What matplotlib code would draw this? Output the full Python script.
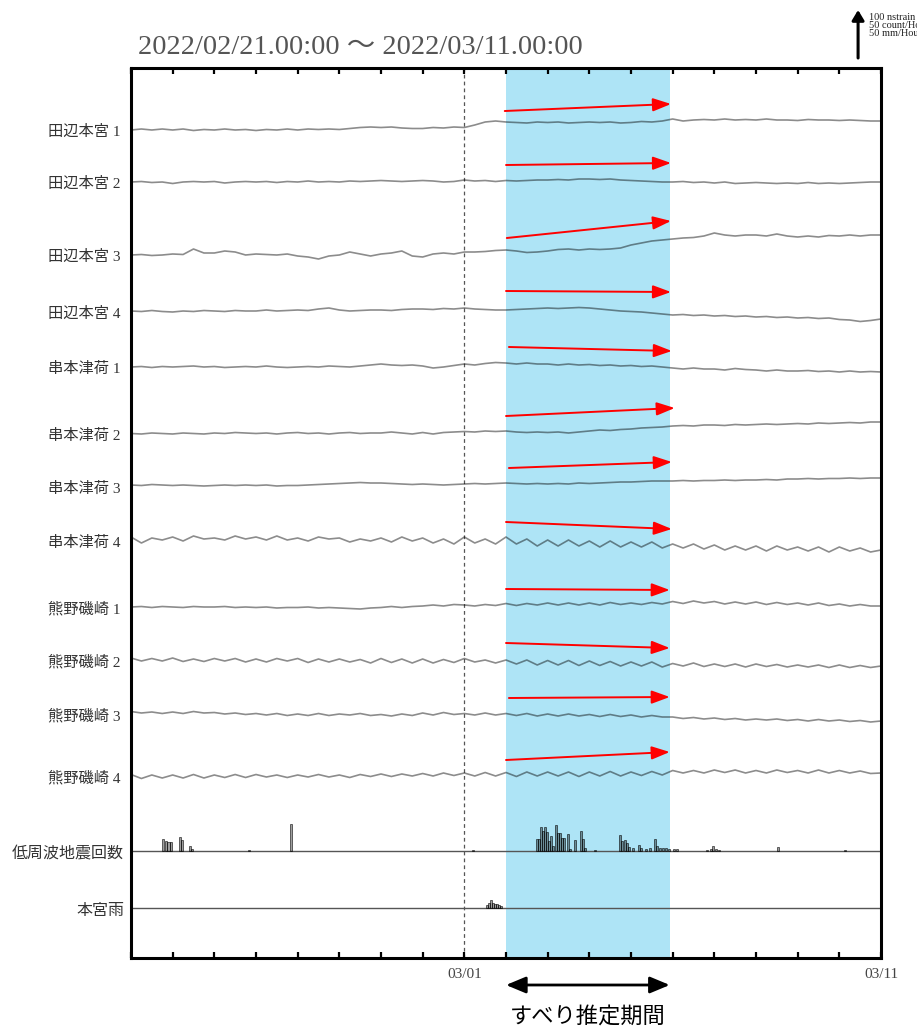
import numpy as np
import matplotlib
matplotlib.use("Agg")
import matplotlib.pyplot as plt
from matplotlib.transforms import blended_transform_factory

plt.rcParams['font.family'] = ['Liberation Serif', 'Noto Sans CJK JP', 'DejaVu Sans']

# ---------------- data ----------------
title = "2022/02/21.00:00 ～ 2022/03/11.00:00"
days = np.arange(0, 18.0001, 0.25)          # days since 2022/02/21 00:00
tick_days = list(range(0, 19))
tick_labels = {8: "03/01", 18: "03/11"}
dash_day = 8
slip_start, slip_end = 9.0, 12.93
slip_label = "すべり推定期間"

station_names = ["田辺本宮 1", "田辺本宮 2", "田辺本宮 3", "田辺本宮 4",
                 "串本津荷 1", "串本津荷 2", "串本津荷 3", "串本津荷 4",
                 "熊野磯崎 1", "熊野磯崎 2", "熊野磯崎 3", "熊野磯崎 4"]

# strain traces (plot units, 48 units = 100 nstrain, positive = up), every 6 h
tanabe1 = [0, 1, 0, 1, 0, 1, -0.5, 0.5, 0, 1, 0, 0.5, -0.5, 0.5, 0, 1, 0, 1, 0.5, 1,
           0.5, 1.5, 2.5, 3, 2.5, 3, 2, 1.5, 1.5, 2.5, 2, 3, 2.5, 5, 8, 9, 8, 7.5, 7, 8,
           7.5, 8, 7, 7.5, 8, 7.5, 8, 7, 7.5, 8.5, 8, 9, 11, 9, 10, 10.5, 10, 11, 10, 10.5,
           10, 11, 10, 10, 9.5, 10.5, 10, 10, 9.5, 10, 9.5, 9, 9]
tanabe2 = [0, 0.5, -0.5, 0, -1.5, 0, 0.5, 0, 0.5, -1, 0, 0.5, 0, 0.5, -0.5, 0.5, 0, 1, 0, 0.5,
           0, 1, 0.5, 1, 1.5, 1, 0.5, 1, 1.5, 1, 0, 0.5, 2, 1, 1.5, 0.5, 1.5, 1, 1.5, 2,
           2, 2.5, 2, 3, 3, 2.5, 3, 2, 1.5, 1, 0.5, 0, 0, 0.5, -0.5, 0, -1, 0, -1.5, -1,
           -0.5, -1, -1.5, -1, -1.5, -0.5, -1.5, -1, -1.5, -1, -0.5, 0, 0]
tanabe3 = [0, 0.5, -0.5, 0, 1, 0.5, 6, 2, 2, 4, 3, 0, 1, 0.5, 0, 1, -1, -2, -4, -1,
           0, 3, 1, -1, 1, 2, 4, -1, -2, 1, 2, 1, 3, 3, 3.5, 4.5, 5, 4, 2.5, 3,
           4, 5.5, 6, 5, 6, 5.5, 6, 7, 10, 12, 14, 15, 16, 17, 17.5, 19, 22, 20, 19, 20,
           20, 19, 21, 19, 18, 19, 18, 19.5, 19, 20, 19, 20, 20]
tanabe4 = [1, 0.5, 1.5, 0.5, 0, 1, 0.5, 1.5, 1, 0.5, 1.5, 1, 1, 2, 1, 1.5, 2, 1.5, 3, 4,
           2, 1, 1.5, 2, 2, 1.5, 2.5, 3, 3, 2.5, 3.5, 3, 4, 3, 2.5, 2, 2, 2.5, 3, 3.5,
           4, 3.5, 4, 4.5, 4, 3, 2, 1, 0.5, 0, -1, -2, -3, -2.5, -3.5, -3, -4, -3.5, -4.5, -4,
           -5, -4.5, -5.5, -5, -6, -5.5, -6.5, -6, -7.5, -8, -9.5, -8.5, -7]
kushimoto1 = [0, 0.5, -0.5, 0.5, 0, 0.5, 1, 0, 0.5, -0.5, 0, 0.5, 0, 1, 0, -0.5, 0, 0.5, 0, 1,
              0.5, 0, 1, 2, 3, 2, 1.5, 2, 1, -1, 0, 1.5, 3, 2, 3.5, 4.5, 4, 3, 4, 3,
              3, 2, 3, 2, 2.5, 1.5, 2, 1, 1.5, 0.5, 1, 0, -1, -2, -1, -2, -2, -3, -1.5, -2.5,
              -3, -4, -3, -4, -4, -3.5, -4.5, -4, -5, -4, -5, -4.5, -5]
kushimoto2 = [0.5, 0, 1, 0.5, 0, 1, 0.5, 0, 1, 0.5, 1.5, 1, 0.5, 1, 0, 1, 1.5, 0.5, 1, 0,
              1, 1.5, 0.5, 1, 1, 2, 1, 0, 1.5, 0, 1.5, 2, 2.5, 2, 3, 2.5, 3, 2, 1.5, 2,
              1.5, 2, 1, 2, 3, 4, 3.5, 4.5, 5, 6, 6.5, 7, 8, 8.5, 8, 9, 9, 8.5, 9.5, 9,
              9.5, 10, 9.5, 10, 10.5, 10, 11, 10.5, 11, 11.5, 11, 12, 12]
kushimoto3 = [2, 1.5, 2.5, 2, 1.5, 2, 1.5, 1, 1.5, 2, 1.5, 2, 1.5, 2, 1, 1.5, 1.5, 2, 2.5, 3,
              3.5, 4, 4.5, 4, 4, 3.5, 3, 2.5, 3, 2.5, 2, 2.5, 3, 3.5, 3, 3.5, 4, 3.5, 3, 3.5,
              3, 3.5, 3, 4, 3.5, 4, 4.5, 5, 5, 5.5, 6, 6, 6, 6.5, 6, 6.5, 6.5, 7, 6.5, 7,
              7, 7.5, 7, 8, 8, 8.5, 8, 8.5, 8.5, 9, 8.5, 9, 9]
kushimoto4 = [4, -2, 3, 1, 4, 0, 5, 2, 3, 1, 5, 2, 4, 1, 5, 1, 3, 0, 4, 2,
              3, -1, 2, 0, 3, -1, 4, 0, 3, -2, 2, -3, 4, -2, 2, -3, 4, -3, 2, -5,
              1, -5, 1, -5, 0, -6, 0, -6, -1, -6, -1, -7, -3, -7, -3, -8, -4, -9, -5, -9,
              -5, -10, -5, -9, -6, -10, -6, -11, -6, -10, -7, -11, -9]
kumano1 = [0, 0.5, -0.5, 0.5, 0, -0.5, 0.5, 0, 0, 0.5, -0.5, 0, -0.5, 0, -1, -0.5, -0.5, 0, -1, -0.5,
           -1, -1.5, -2, -1, -0.5, 0.5, -0.5, 0.5, 1, 2, 1, 2.5, 2, 1, 2.5, 1.5, 3.5, 1.5, 3.5, 2,
           4, 2, 4, 2, 4, 2, 4.5, 2.5, 4, 2.5, 4.5, 3, 5.5, 3.5, 6, 4, 5.5, 3, 5, 3,
           5, 2.5, 4.5, 2.5, 4, 2, 4, 1.5, 3, 1, 2.5, 1, 1]
kumano2 = [2, -1, 1.5, -1, 2, -1.5, 1, -1.5, 1.5, -1, 1.5, -2, 1, -2, 1.5, -1, 1.5, -2.5, 1, -2,
           1, -2, 0.5, -3, 1.5, -2.5, 1, -3, 1, -3, 0.5, -2.5, 1.5, -2, 0, -3, 0, -4, 0, -5,
           -0.5, -5, -0.5, -5.5, -1, -5.5, -1.5, -6, -2, -6, -2, -7, -3.5, -6, -3, -6.5, -4, -6.5, -4, -7,
           -4, -6.5, -4.5, -7, -5, -7, -5, -7.5, -5, -7.5, -5.5, -7.5, -6]
kumano3 = [2.5, 1, 2, 0.5, 2, 0.5, 2.5, 1, 1.5, 0, 1, -0.5, 0.5, -1, 0.5, -1.5, 0, -1.5, 0.5, -1.5,
           0, -1, 0.5, -1.5, -0.5, -2, 0, -1.5, 1, -1, 1.5, -0.5, 0.5, -1, 1, -1, 0.5, -1.5, 0.5, -2,
           0, -2, 0, -2, -0.5, -2.5, -0.5, -2.5, -1, -3, -1.5, -3, -3, -4.5, -3.5, -5, -4, -5.5, -4.5, -6,
           -5, -6, -5, -6.5, -5.5, -7, -5.5, -7, -6, -7.5, -6.5, -8, -7]
kumano4 = [1.5, -2.5, 1, -2, 1, -2, 1.5, -2, 1, -1.5, 1.5, -1.5, 1.5, -1, 1, -1.5, 1, -1, 1.5, -1,
           1, -1.5, 1.5, -0.5, 2, -0.5, 2, 0, 2.5, 0, 3, 0.5, 3, 0, 3.5, 0, 3.5, -0.5, 4, 0,
           4, 0, 4, -0.5, 4, 0, 4.5, 0, 4, 0.5, 4.5, 1, 5.5, 3, 5.5, 3, 6, 3.5, 6, 3,
           5.5, 3, 6, 3.5, 5.5, 3, 6, 3, 5.5, 3, 5, 2.5, 3]
traces = [tanabe1, tanabe2, tanabe3, tanabe4, kushimoto1, kushimoto2, kushimoto3, kushimoto4,
          kumano1, kumano2, kumano3, kumano4]

# low-frequency earthquake counts per hour (day, count)
lfe_day = [0.77, 0.84, 0.90, 0.96, 1.18, 1.22, 1.42, 1.46, 2.83, 3.84, 8.21,
           9.74, 9.79, 9.84, 9.89, 9.94, 9.98, 10.03, 10.08, 10.12, 10.20, 10.25, 10.30,
           10.34, 10.39, 10.49, 10.54, 10.66, 10.80, 10.85, 10.90, 11.14, 11.74, 11.78,
           11.86, 11.90, 11.95, 12.05, 12.19, 12.24, 12.36, 12.46, 12.58, 12.62, 12.70,
           12.77, 12.84, 12.91, 13.03, 13.10, 13.82, 13.92, 13.97, 14.04, 14.11, 15.53, 17.13]
lfe_count = [13, 10, 9, 9, 15, 11, 5, 2, 1, 28, 1,
             13, 13, 25, 21, 25, 20, 10, 16, 5, 27, 19, 19,
             14, 14, 18, 2, 11, 21, 13, 3, 1, 17, 10,
             11, 8, 4, 3, 6, 3, 2, 3, 13, 5, 3,
             3, 3, 2, 2, 2, 1, 2, 5, 2, 1, 4, 1]

# Hongu rainfall (mm/hour)
rain_day = [8.54, 8.59, 8.64, 8.69, 8.74, 8.78, 8.83, 8.88]
rain_mm = [3, 5, 8, 5, 4, 4, 3, 2]

# estimated slip-direction arrows (start/end of each vector)
arrow_x0 = [8.97, 9.0, 9.02, 9.0, 9.07, 9.0, 9.07, 9.0, 9.0, 9.0, 9.07, 9.0]
arrow_x1 = [12.96, 12.96, 12.96, 12.96, 12.98, 13.05, 12.98, 12.98, 12.93, 12.93, 12.93, 12.93]
arrow_y0 = [111, 165, 238, 291, 347, 416, 468, 522, 589, 643, 698, 760]
arrow_y1 = [104, 163, 221, 292, 351, 408, 462, 529, 590, 648, 697, 752]

scale_lines = ["100 nstrain", "50 count/Hour", "50 mm/Hour"]

# ---------------- layout ----------------
row_y = [130, 182, 255, 312, 367, 434, 487, 541, 607, 660, 714, 776]
lfe_base, rain_base = 851, 908
scale_len = 48                       # units for 100 nstrain / 50 count / 50 mm
px_per_count = scale_len / 50
px_per_mm = scale_len / 50

W, H = 917, 1029
fig = plt.figure(figsize=(W / 100, H / 100), dpi=100)
ax = fig.add_axes([131 / W, 1 - 958 / H, 750 / W, 890 / H])
ax.set_xlim(0, 18)
ax.set_ylim(958, 68)

ax.axvspan(slip_start, slip_end, color='#AEE4F6', zorder=0, lw=0)
ax.axvline(dash_day, color='#555555', lw=0.9, ls=(0, (3, 2.5)), zorder=1)

t = np.asarray(days)
for base, tr in zip(row_y, traces):
    ax.plot(t, base - np.asarray(tr), color='black', alpha=0.45, lw=1.2, zorder=2)

ax.axhline(lfe_base, color='#555555', lw=1.0, zorder=2)
ax.axhline(rain_base, color='#555555', lw=1.0, zorder=2)
ax.bar(lfe_day, -np.asarray(lfe_count) * px_per_count, bottom=lfe_base, width=1 / 20,
       facecolor=(0, 0, 0, 0.38), edgecolor=(0, 0, 0, 0.65), lw=0.6, zorder=3)
ax.bar(rain_day, -np.asarray(rain_mm) * px_per_mm, bottom=rain_base, width=1 / 20,
       facecolor=(0, 0, 0, 0.38), edgecolor=(0, 0, 0, 0.65), lw=0.6, zorder=3)

for x0, x1, y0, y1 in zip(arrow_x0, arrow_x1, arrow_y0, arrow_y1):
    ax.annotate("", xy=(x1, y1), xytext=(x0, y0),
                arrowprops=dict(arrowstyle='-|>,head_length=0.55,head_width=0.2',
                                color='#FF0000', lw=1.4, mutation_scale=20,
                                shrinkA=0, shrinkB=0), zorder=4)

# axes styling
for s in ax.spines.values():
    s.set_linewidth(2.2)
    s.set_color('black')
ax.set_xticks(tick_days)
ax.set_xticklabels([tick_labels.get(d, "") for d in tick_days])
ax.tick_params(axis='x', direction='in', length=4, width=1.6, top=True, bottom=True,
               labelsize=11, labelcolor='#444444', pad=7)
ax.set_yticks([])

# station labels
lt = blended_transform_factory(fig.transFigure, ax.transData)
for name, y in zip(station_names, row_y):
    ax.text(120 / W, y + 2, name, transform=lt, ha='right', va='center',
            fontsize=11, color='#333333', family=['Liberation Serif', 'Noto Sans CJK JP'])
ax.text(124 / W, lfe_base + 3, "低周波地震回数", transform=lt, ha='right', va='center',
        fontsize=11.5, color='#333333', family=['Noto Sans CJK JP'])
ax.text(124 / W, rain_base + 3, "本宮雨", transform=lt, ha='right', va='center',
        fontsize=11.5, color='#333333', family=['Noto Sans CJK JP'])

# title
fig.text(138 / W, 1 - 48 / H, title, ha='left', va='center', fontsize=20.5, color='#555555',
         family=['Liberation Serif', 'Noto Sans CJK JP'])

# scale arrow
scale_x = 17.45
ax.annotate("", xy=(scale_x, 58 - scale_len), xytext=(scale_x, 58), annotation_clip=False,
            arrowprops=dict(arrowstyle='-|>,head_length=0.5,head_width=0.3', color='black',
                            lw=2.2, mutation_scale=12, shrinkA=0, shrinkB=0))
for i, s in enumerate(scale_lines):
    fig.text(869 / W, 1 - (17 + 8.5 * i) / H, s, ha='left', va='center', fontsize=7.5,
             color='#222222')

# slip estimation period marker
ax.annotate("", xy=(slip_end, 985), xytext=(slip_start, 985), annotation_clip=False,
            arrowprops=dict(arrowstyle='<|-|>,head_length=0.6,head_width=0.25', color='black',
                            lw=2, mutation_scale=20, shrinkA=0, shrinkB=0))
ax.text((slip_start + slip_end) / 2, 1016, slip_label, ha='center', va='center',
        fontsize=16, color='black', family=['Noto Sans CJK JP'], clip_on=False)

fig.savefig("out.png", dpi=100)
